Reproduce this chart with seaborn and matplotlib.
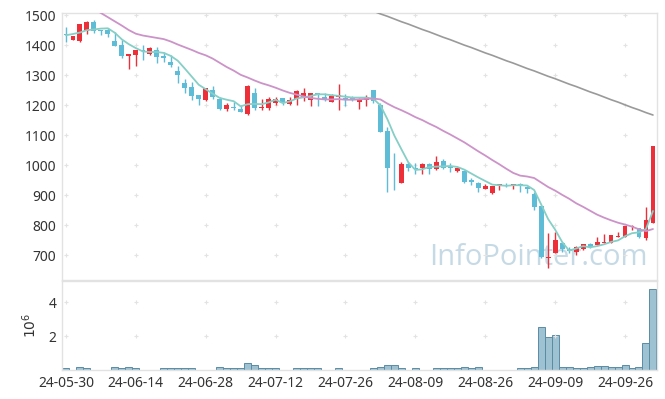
import numpy as np
import pandas as pd
import matplotlib
matplotlib.use("Agg")
import matplotlib.pyplot as plt
import seaborn as sns

# trading days (KRX holidays removed)
holidays = ["2024-06-06", "2024-08-15", "2024-09-16", "2024-09-17",
            "2024-09-18", "2024-10-01", "2024-10-03"]
dates = pd.bdate_range("2024-05-30", "2024-10-04", freq="C", holidays=holidays)

open_ = [1436, 1418, 1413, 1446, 1477, 1450, 1450, 1413, 1400, 1364,
         1368, 1383, 1369, 1383, 1364, 1344, 1314, 1274, 1262, 1233,
         1217, 1252, 1222, 1186, 1193, 1187, 1169, 1242, 1191, 1191,
         1208, 1224, 1203, 1222, 1228, 1218, 1239, 1227, 1211, 1228,
         1224, 1224, 1209, 1217, 1250, 1200, 1113, 951, 939, 1003,
         991, 989, 1003, 986, 1014, 994, 981, 981, 950, 939,
         922, 908, 933, 935, 933, 937, 928, 903, 863, 690,
         708, 741, 722, 711, 720, 737, 733, 739, 741, 759,
         761, 795, 789, 756, 808]
high = [1459, 1432, 1470, 1481, 1483, 1452, 1456, 1444, 1417, 1372,
        1384, 1400, 1394, 1394, 1378, 1367, 1330, 1287, 1278, 1235,
        1258, 1263, 1228, 1206, 1211, 1200, 1267, 1256, 1222, 1228,
        1228, 1225, 1228, 1250, 1258, 1239, 1242, 1242, 1236, 1269,
        1236, 1231, 1224, 1233, 1250, 1206, 1128, 1039, 1011, 1011,
        1006, 1008, 1006, 1030, 1019, 1006, 991, 983, 956, 944,
        936, 930, 936, 939, 937, 941, 931, 911, 863, 773,
        778, 744, 728, 730, 737, 741, 759, 772, 767, 778,
        797, 802, 789, 861, 1063]
low = [1411, 1416, 1411, 1437, 1439, 1435, 1428, 1398, 1358, 1322,
       1330, 1350, 1367, 1339, 1344, 1328, 1275, 1242, 1217, 1202,
       1214, 1222, 1183, 1180, 1183, 1176, 1167, 1183, 1183, 1183,
       1202, 1200, 1202, 1202, 1214, 1198, 1198, 1214, 1209, 1183,
       1198, 1213, 1186, 1197, 1206, 1111, 911, 917, 939, 981,
       972, 972, 972, 983, 986, 978, 978, 942, 933, 911,
       920, 903, 917, 928, 920, 909, 906, 852, 689, 657,
       706, 711, 706, 700, 717, 725, 733, 739, 739, 759,
       761, 783, 756, 752, 808]
close = [1433, 1430, 1470, 1477, 1448, 1448, 1436, 1398, 1364, 1370,
         1383, 1381, 1389, 1361, 1358, 1333, 1300, 1256, 1230, 1219,
         1258, 1228, 1186, 1200, 1191, 1176, 1263, 1191, 1195, 1220,
         1222, 1206, 1217, 1247, 1239, 1239, 1236, 1218, 1231, 1233,
         1220, 1221, 1222, 1228, 1214, 1111, 989, 949, 1003, 991,
         986, 1003, 986, 1011, 992, 991, 989, 944, 944, 925,
         931, 930, 936, 932, 937, 931, 922, 861, 694, 694,
         752, 721, 714, 728, 737, 728, 744, 744, 766, 763,
         797, 797, 759, 817, 1063]
# volume in millions of shares
volume = [0.10, 0.02, 0.16, 0.10, 0.02, 0.02, 0.02, 0.16, 0.10, 0.16,
          0.10, 0.02, 0.02, 0.02, 0.10, 0.10, 0.10, 0.10, 0.10, 0.02,
          0.02, 0.02, 0.16, 0.10, 0.10, 0.10, 0.40, 0.28, 0.10, 0.10,
          0.10, 0.02, 0.02, 0.10, 0.10, 0.10, 0.10, 0.02, 0.02, 0.10,
          0.02, 0.02, 0.02, 0.02, 0.10, 0.20, 0.28, 0.28, 0.10, 0.02,
          0.10, 0.02, 0.02, 0.10, 0.10, 0.10, 0.10, 0.20, 0.10, 0.16,
          0.02, 0.02, 0.02, 0.02, 0.02, 0.10, 0.10, 0.16, 2.55, 1.96,
          2.08, 0.20, 0.16, 0.10, 0.10, 0.16, 0.26, 0.26, 0.16, 0.16,
          0.28, 0.10, 0.16, 1.57, 4.79]
ma5 = [1433, 1437, 1442, 1450, 1452, 1455, 1456, 1441, 1419, 1403,
       1390, 1379, 1377, 1377, 1374, 1364, 1348, 1322, 1295, 1268,
       1253, 1238, 1224, 1218, 1213, 1196, 1203, 1204, 1203, 1209,
       1218, 1207, 1212, 1222, 1226, 1230, 1236, 1236, 1233, 1231,
       1228, 1225, 1225, 1225, 1221, 1199, 1153, 1098, 1053, 1009,
       984, 986, 994, 995, 996, 997, 994, 985, 972, 959,
       947, 935, 933, 931, 933, 933, 932, 917, 869, 820,
       785, 744, 715, 722, 730, 726, 730, 736, 744, 749,
       763, 773, 776, 787, 847]
ma20 = [np.nan, np.nan, np.nan, np.nan, 1521, 1507, 1493, 1479, 1465, 1450,
        1438, 1432, 1428, 1424, 1420, 1412, 1402, 1393, 1384, 1374,
        1366, 1355, 1341, 1327, 1315, 1301, 1292, 1282, 1273, 1266,
        1258, 1249, 1241, 1235, 1229, 1224, 1221, 1219, 1219, 1220,
        1218, 1218, 1219, 1221, 1222, 1219, 1205, 1193, 1183, 1172,
        1160, 1150, 1138, 1127, 1114, 1102, 1089, 1076, 1061, 1046,
        1032, 1017, 1003, 988, 974, 965, 962, 957, 942, 927,
        915, 901, 888, 873, 861, 848, 835, 825, 816, 808,
        802, 795, 786, 780, 787]
# long average, only on screen from 2024-07-31 on
ma_long_start = 44
ma_long = [1513, 1504, 1496, 1487, 1478, 1470, 1461, 1452, 1444, 1435,
           1426, 1418, 1409, 1400, 1392, 1383, 1374, 1366, 1357, 1348,
           1340, 1331, 1322, 1314, 1305, 1296, 1288, 1279, 1270, 1262,
           1253, 1244, 1236, 1227, 1218, 1210, 1201, 1192, 1184, 1175,
           1167]

UP = "#ec2f38"
DOWN = "#5fbcd7"
GRID = "#e3e3e3"

sns.set_theme(style="white")
plt.rcParams["font.family"] = ["Noto Sans", "DejaVu Sans"]

df = pd.DataFrame({"date": dates, "open": open_, "high": high, "low": low,
                   "close": close, "volume": volume, "ma5": ma5, "ma20": ma20})
df["idx"] = np.arange(len(df))
df["up"] = df["close"] >= df["open"]

fig = plt.figure(figsize=(6.65, 3.99), dpi=100)
ax = fig.add_axes([0.0932, 0.2982, 0.8947, 0.6692])
axv = fig.add_axes([0.0932, 0.0727, 0.8947, 0.2230], sharex=ax)

# watermark
ax.text(0.80, 0.085, "InfoPointer.com", transform=ax.transAxes, ha="center",
        va="center", fontsize=21, color="#c6dae6", zorder=0,
        family=["Open Sans", "DejaVu Sans"])

# candles
colors = np.where(df["up"], UP, DOWN)
ax.vlines(df["idx"], df["low"], df["high"], colors=colors, linewidth=1.0, zorder=2)
body_lo = np.minimum(df["open"], df["close"])
body_h = np.maximum((df["close"] - df["open"]).abs(), 2)
ax.bar(df["idx"], body_h, bottom=body_lo, width=0.7, color=colors, linewidth=0, zorder=3)

# moving averages
sns.lineplot(x=df["idx"], y=df["ma5"], ax=ax, color="#86cfc6", linewidth=1.3, zorder=4)
sns.lineplot(x=df["idx"], y=df["ma20"], ax=ax, color="#cc93c9", linewidth=1.3, zorder=4)
long_idx = np.arange(ma_long_start, ma_long_start + len(ma_long))
sns.lineplot(x=long_idx, y=ma_long, ax=ax, color="#9a9a9a", linewidth=1.2, zorder=4)

# volume
sns.barplot(x=df["idx"], y=df["volume"], ax=axv, native_scale=True, width=1.0,
            color="#9fc2d3", edgecolor="#5a8ca6", linewidth=0.7, saturation=1,
            errorbar=None)

ax.set_xlim(-0.57, 84.57)
ax.set_ylim(617, 1507)
axv.set_ylim(0, 5.25)

ax.set_yticks(range(700, 1501, 100))
axv.set_yticks([2, 4])
ticks = list(range(0, len(df), 10))
axv.set_xticks(ticks)
axv.set_xticklabels([dates[i].strftime("%y-%m-%d") for i in ticks])
ax.tick_params(axis="x", labelbottom=False)

for a in (ax, axv):
    a.set_xlabel("")
    a.set_ylabel("")
    a.tick_params(length=0, labelsize=10, colors="#333333", pad=4)
    for s in a.spines.values():
        s.set_color("#e2e2e2")
        s.set_linewidth(1.0)
    # small crosses where grid lines would meet
    gx, gy = np.meshgrid(ticks, a.get_yticks())
    a.scatter(gx.ravel(), gy.ravel(), marker="+", s=12, color=GRID,
              linewidths=0.8, zorder=1)

axv.set_ylabel("$10^6$", fontsize=10, color="#333333", labelpad=6)

fig.savefig("out.png", dpi=100)
